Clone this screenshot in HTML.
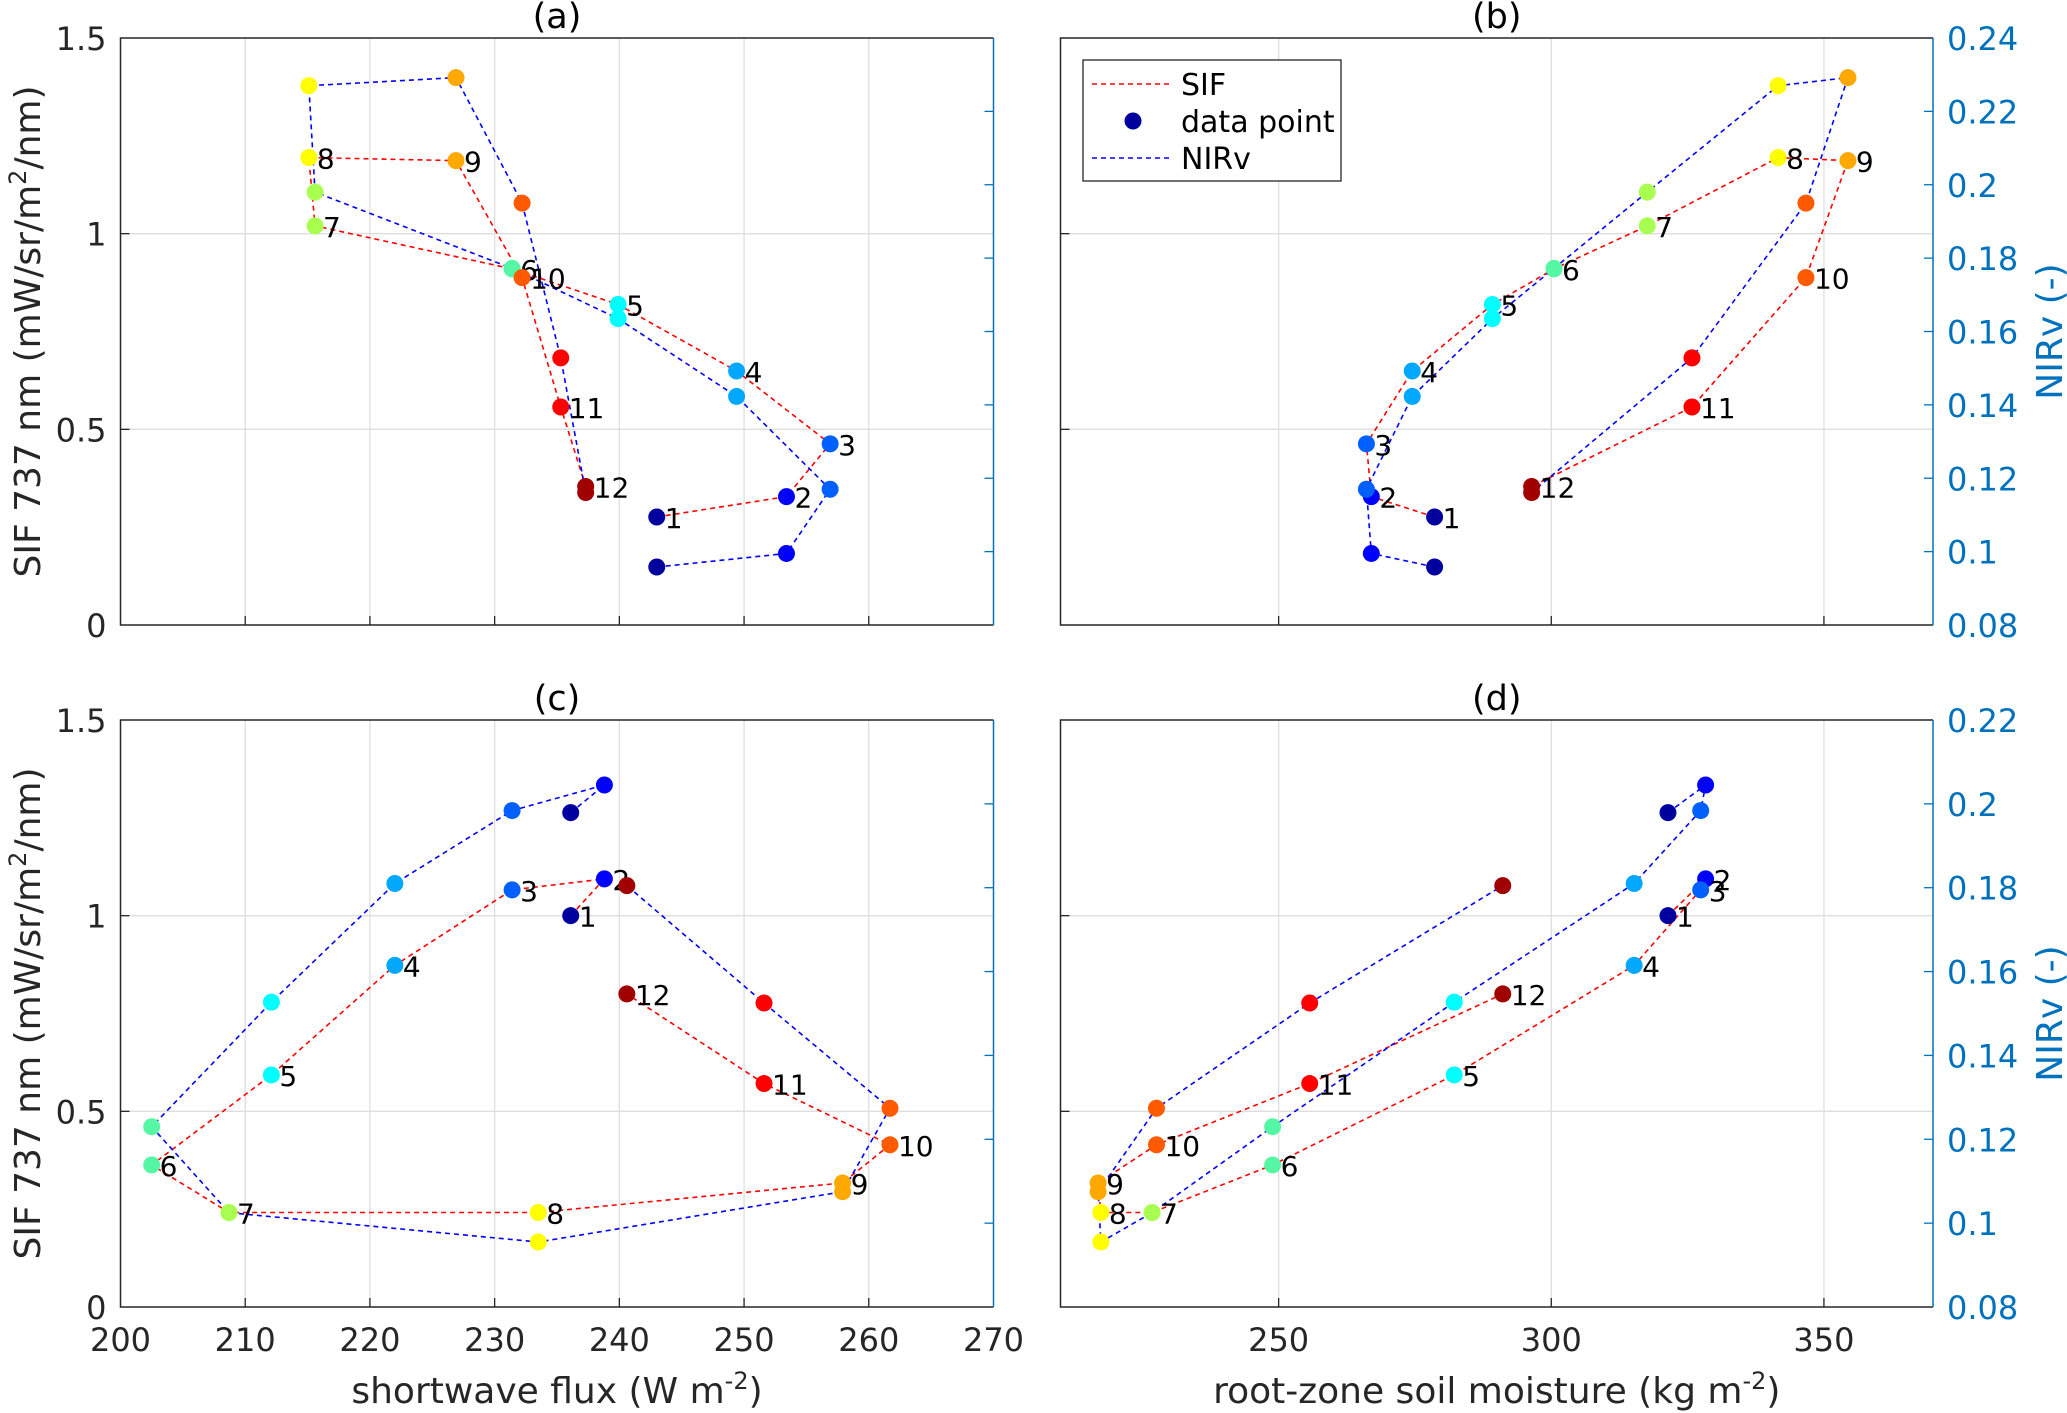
<!DOCTYPE html>
<html><head><meta charset="utf-8"><style>
html,body{margin:0;padding:0;background:#fff;}
svg{display:block;font-family:"DejaVu Sans","Liberation Sans",sans-serif;}
</style></head><body>
<svg id="fig" width="2067" height="1413" viewBox="0 0 2067 1413" xmlns="http://www.w3.org/2000/svg"></svg>
<script>
const months = [1,2,3,4,5,6,7,8,9,10,11,12];
const colors = ["#00009f","#0000ff","#0060ff","#00a8ff","#00ffff","#55f7a4","#a8ff50","#ffff00","#ffa800","#ff5a00","#ff0000","#a00000"];
const swTop = [243.0,253.4,256.9,249.4,239.9,231.4,215.6,215.1,226.9,232.2,235.3,237.3];
const smTop = [278.6,267.0,266.1,274.5,289.2,300.5,317.6,341.6,354.4,346.7,325.8,296.4];
const sifTop = [0.276,0.328,0.463,0.649,0.819,0.91,1.02,1.1945,1.1866,0.8876,0.557,0.354];
const nirTop = [0.0958,0.0995,0.117,0.1423,0.1635,0.1772,0.198,0.227,0.2292,0.195,0.1528,0.1161];
const swBot = [236.1,238.8,231.4,222.0,212.1,202.5,208.7,233.5,257.9,261.7,251.6,240.6];
const smBot = [321.4,328.3,327.4,315.2,282.2,248.9,226.8,217.4,216.9,227.6,255.7,291.1];
const sifBot = [1.0,1.094,1.066,0.873,0.593,0.363,0.2415,0.2415,0.317,0.4145,0.571,0.80];
const nirBot = [0.1979,0.2045,0.1984,0.181,0.1527,0.123,0.1025,0.0955,0.1075,0.1274,0.1525,0.1805];
const sifTicks = [0,0.5,1,1.5];
const sifTickLabels = ["0","0.5","1","1.5"];
const nirTicksTop = [0.08,0.1,0.12,0.14,0.16,0.18,0.2,0.22,0.24];
const nirTicksBot = [0.08,0.1,0.12,0.14,0.16,0.18,0.2,0.22];
const swTicks = [200,210,220,230,240,250,260,270];
const smTicks = [250,300,350];

const NS="http://www.w3.org/2000/svg";
const svg=document.getElementById('fig');
function mk(tag,attrs,parent){const e=document.createElementNS(NS,tag);for(const k in attrs)e.setAttribute(k,attrs[k]);(parent||svg).appendChild(e);return e;}
const BLUEAX="#0072bd";

function panel(o){
  const g=mk('g',{});
  
  
  const X=v=>o.x0+(v-o.xd[0])/(o.xd[1]-o.xd[0])*(o.x1-o.x0);
  const Y=v=>o.y1-(v-0)/(1.5)*(o.y1-o.y0);
  const R=v=>o.y1-(v-o.rd[0])/(o.rd[1]-o.rd[0])*(o.y1-o.y0);
  o.xt.forEach(t=>{const x=X(t);if(x>o.x0+1&&x<o.x1-1){const l=mk('line',{x1:x,x2:x,y1:o.y0,y2:o.y1,stroke:"#dedede","stroke-width":1.3},g);
    mk('line',{x1:x,x2:x,y1:o.y1,y2:o.y1-9,stroke:"#262626","stroke-width":1.3},g);}});
  sifTicks.forEach(t=>{const y=Y(t);if(y>o.y0+1&&y<o.y1-1){const l=mk('line',{x1:o.x0,x2:o.x1,y1:y,y2:y,stroke:"#dedede","stroke-width":1.3},g);
    mk('line',{x1:o.x0,x2:o.x0+9,y1:y,y2:y,stroke:"#262626","stroke-width":1.3},g);}});
  o.rt.forEach(t=>{const y=R(t);if(y>o.y0+1&&y<o.y1-1){mk('line',{x1:o.x1,x2:o.x1-9,y1:y,y2:y,stroke:BLUEAX,"stroke-width":1.3},g);}});
  mk('path',{d:`M${o.x1},${o.y0}H${o.x0}V${o.y1}H${o.x1}`,fill:"none",stroke:"#262626","stroke-width":1.5},g);
  const ra=mk('line',{x1:o.x1,x2:o.x1,y1:o.y0,y2:o.y1,stroke:BLUEAX,"stroke-width":1.5},g);
  
  if(o.leftLabels){sifTicks.forEach((t,i)=>{const tx=mk('text',{x:o.x0-14,y:Y(t)+12,"text-anchor":"end","font-size":32,fill:"#262626"},g);tx.textContent=sifTickLabels[i];});
    const yl=mk('text',{x:0,y:0,transform:`translate(40,${(o.y0+o.y1)/2}) rotate(-90)`,"text-anchor":"middle","font-size":36,fill:"#262626"},g);
    
    yl.innerHTML='SIF 737 nm (mW/sr/m<tspan dy="-14" font-size="24">2</tspan><tspan dy="14">/nm)</tspan>';}
  if(o.rightLabels){o.rt.forEach(t=>{const tx=mk('text',{x:o.x1+14,y:R(t)+12,"text-anchor":"start","font-size":32,fill:BLUEAX},g);tx.textContent=String(+t.toFixed(2));});
    const yl=mk('text',{x:0,y:0,transform:`translate(2062,${(o.y0+o.y1)/2}) rotate(-90)`,"text-anchor":"middle","font-size":36,fill:BLUEAX},g);
    yl.textContent='NIRv (-)';}
  if(o.xLabels){o.xt.forEach(t=>{const tx=mk('text',{x:X(t),y:o.y1+44,"text-anchor":"middle","font-size":32,fill:"#262626"},g);tx.textContent=t;});
    const xl=mk('text',{x:(o.x0+o.x1)/2,y:1403,"text-anchor":"middle","font-size":36,fill:"#262626"},g);
    xl.innerHTML=o.xTitle+' m<tspan dy="-14" font-size="24">-2</tspan><tspan dy="14">)</tspan>';
    }
  const tt=mk('text',{x:(o.x0+o.x1)/2,y:o.y0-10,"text-anchor":"middle","font-size":35,fill:"#000"},g);
  tt.textContent='('+o.id+')';
  const sp=o.xs.map((v,i)=>X(v)+','+Y(o.sif[i])).join(' ');
  const np=o.xs.map((v,i)=>X(v)+','+R(o.nir[i])).join(' ');
  const l1=mk('polyline',{points:sp,fill:"none",stroke:"#ff0000","stroke-width":1.6,"stroke-dasharray":"5 4"},g);
  
  const l2=mk('polyline',{points:np,fill:"none",stroke:"#0000ff","stroke-width":1.6,"stroke-dasharray":"5 4"},g);
  
  o.xs.forEach((v,i)=>{
    const c2=mk('circle',{cx:X(v),cy:R(o.nir[i]),r:8.5,fill:colors[i]},g);
    
    const c1=mk('circle',{cx:X(v),cy:Y(o.sif[i]),r:8.5,fill:colors[i]},g);
    
    const lb=mk('text',{x:X(v)+8,y:Y(o.sif[i])+11,"font-size":28,fill:"#000"},g);
    lb.textContent=months[i];
  });
}
panel({id:'a',x0:120.5,x1:993.5,y0:38,y1:625,xd:[200,270],rd:[0.08,0.24],xt:swTicks,rt:nirTicksTop,xs:swTop,sif:sifTop,nir:nirTop,leftLabels:true});
panel({id:'b',x0:1060.5,x1:1933,y0:38,y1:625,xd:[210,370],rd:[0.08,0.24],xt:smTicks,rt:nirTicksTop,xs:smTop,sif:sifTop,nir:nirTop,rightLabels:true});
panel({id:'c',x0:120.5,x1:993.5,y0:720,y1:1307,xd:[200,270],rd:[0.08,0.22],xt:swTicks,rt:nirTicksBot,xs:swBot,sif:sifBot,nir:nirBot,leftLabels:true,xLabels:true,xTitle:'shortwave flux (W'});
panel({id:'d',x0:1060.5,x1:1933,y0:720,y1:1307,xd:[210,370],rd:[0.08,0.22],xt:smTicks,rt:nirTicksBot,xs:smBot,sif:sifBot,nir:nirBot,rightLabels:true,xLabels:true,xTitle:'root-zone soil moisture (kg'});
const lg=mk('g',{});


mk('rect',{x:1083,y:60,width:258,height:121,fill:"#fff",stroke:"#262626","stroke-width":1.3},lg);
mk('line',{x1:1092,x2:1170,y1:84,y2:84,stroke:"#ff0000","stroke-width":1.6,"stroke-dasharray":"5 4"},lg);
mk('circle',{cx:1133,cy:121,r:8.5,fill:"#00009f"},lg);
mk('line',{x1:1092,x2:1170,y1:158,y2:158,stroke:"#0000ff","stroke-width":1.6,"stroke-dasharray":"5 4"},lg);
[["SIF",95,'legend-entry-sif'],["data point",132,'legend-entry-data-point'],["NIRv",169,'legend-entry-nirv']].forEach(a=>{
  const t=mk('text',{x:1181,y:a[1],"font-size":30,fill:"#000"},lg);t.textContent=a[0];
  
  
});
</script>
</body></html>
